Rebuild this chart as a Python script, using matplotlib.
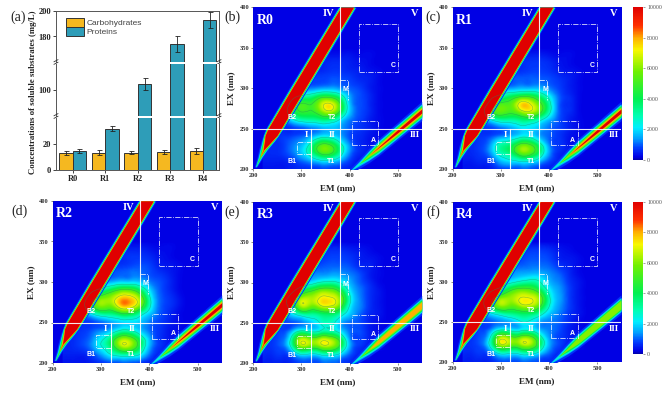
import numpy as np
import matplotlib
matplotlib.use('Agg')
import matplotlib.pyplot as plt
import matplotlib.tri as mtri
from matplotlib.colors import LinearSegmentedColormap, Normalize

plt.rcParams['font.family'] = ['Liberation Serif', 'DejaVu Serif']

W, H = 672, 394

# Bar panel data
runs = ['R0', 'R1', 'R2', 'R3', 'R4']
carbs = [12.8, 13.4, 13.4, 14.0, 14.6]
carbs_err = [1.5, 2.0, 1.2, 1.5, 2.0]
proteins = [14.6, 31.8, 104.5, 174, 193]
proteins_err = [1.5, 2.0, 4.5, 6, 6]

# EEM grids, intensity in hundreds, one row per EX value
em_cols = [220, 240, 260, 280, 300, 320, 340, 360, 380, 400, 420, 440, 460, 480, 500]
ex_rows = [200, 210, 220, 230, 240, 250, 260, 270, 280, 290, 300, 310, 320, 330, 340, 350]

r0_grid = [
    [4, 4, 4, 5, 6, 7, 8, 8, 7, 5, 3, 2, 2, 2, 2],
    [5, 5, 5, 7, 11, 16, 22, 22, 16, 8, 4, 3, 2, 2, 2],
    [6, 6, 7, 11, 18, 32, 50, 50, 32, 13, 6, 4, 3, 2, 2],
    [6, 6, 7, 11, 16, 30, 50, 48, 30, 13, 6, 4, 3, 2, 2],
    [6, 6, 7, 8, 10, 15, 22, 22, 16, 9, 6, 4, 3, 2, 2],
    [6, 6, 6, 7, 9, 12, 15, 17, 15, 10, 7, 5, 3, 2, 2],
    [6, 8, 11, 20, 28, 30, 33, 32, 22, 12, 8, 5, 3, 2, 2],
    [6, 10, 16, 34, 47, 46, 56, 64, 44, 18, 9, 6, 3, 2, 2],
    [6, 10, 14, 32, 50, 48, 64, 72, 50, 18, 9, 6, 3, 2, 2],
    [6, 7, 9, 18, 28, 32, 42, 43, 32, 15, 9, 6, 3, 2, 2],
    [5, 5, 6, 8, 10, 12, 14, 15, 13, 10, 8, 5, 3, 2, 2],
    [4, 4, 5, 5, 7, 8, 8, 9, 9, 8, 6, 5, 3, 2, 2],
    [3, 3, 3, 4, 5, 6, 6, 7, 7, 6, 5, 4, 3, 2, 2],
    [2, 2, 3, 3, 4, 5, 5, 6, 6, 5, 4, 3, 2, 2, 2],
    [2, 2, 2, 3, 3, 4, 4, 4, 4, 4, 3, 3, 2, 2, 2],
    [2, 2, 2, 2, 2, 2, 2, 2, 2, 2, 2, 2, 2, 2, 2],
]
r1_grid = [
    [4, 4, 4, 5, 8, 9, 10, 10, 7, 5, 3, 2, 2, 2, 2],
    [5, 5, 6, 9, 18, 22, 26, 25, 18, 9, 5, 3, 2, 2, 2],
    [6, 6, 8, 16, 30, 38, 56, 54, 36, 14, 6, 4, 3, 2, 2],
    [6, 6, 8, 16, 30, 36, 52, 50, 32, 12, 7, 4, 3, 2, 2],
    [6, 6, 7, 9, 13, 17, 23, 23, 15, 10, 7, 4, 3, 2, 2],
    [6, 6, 7, 8, 11, 15, 20, 20, 16, 11, 8, 5, 3, 2, 2],
    [6, 8, 12, 22, 30, 30, 34, 34, 26, 16, 9, 5, 3, 2, 2],
    [6, 10, 18, 44, 54, 50, 60, 66, 52, 28, 10, 6, 3, 2, 2],
    [6, 10, 15, 36, 52, 54, 74, 72, 54, 30, 10, 6, 3, 2, 2],
    [6, 7, 10, 20, 30, 38, 46, 46, 36, 22, 10, 6, 3, 2, 2],
    [5, 5, 6, 9, 12, 14, 16, 16, 16, 12, 8, 5, 3, 2, 2],
    [4, 4, 5, 6, 7, 9, 10, 10, 10, 9, 7, 5, 3, 2, 2],
    [3, 3, 3, 4, 6, 7, 7, 8, 8, 7, 5, 4, 3, 2, 2],
    [2, 2, 3, 4, 5, 6, 6, 7, 7, 6, 4, 3, 2, 2, 2],
    [2, 2, 2, 3, 4, 5, 5, 5, 5, 4, 3, 3, 2, 2, 2],
    [2, 2, 2, 2, 2, 2, 2, 2, 2, 2, 2, 2, 2, 2, 2],
]
r2_grid = [
    [4, 4, 4, 5, 7, 9, 10, 10, 8, 5, 3, 2, 2, 2, 2],
    [5, 5, 5, 8, 15, 24, 30, 30, 24, 11, 5, 3, 2, 2, 2],
    [6, 6, 8, 13, 24, 38, 62, 62, 40, 16, 7, 4, 3, 2, 2],
    [6, 6, 8, 12, 22, 36, 58, 56, 36, 16, 7, 4, 3, 2, 2],
    [6, 6, 7, 9, 12, 17, 26, 26, 18, 11, 7, 4, 3, 2, 2],
    [6, 6, 7, 8, 11, 15, 19, 20, 18, 12, 8, 5, 3, 2, 2],
    [6, 8, 12, 22, 32, 34, 42, 42, 30, 18, 10, 6, 3, 2, 2],
    [6, 10, 18, 44, 60, 58, 76, 76, 58, 28, 11, 7, 4, 2, 2],
    [6, 10, 15, 38, 56, 62, 76, 76, 60, 28, 11, 7, 4, 2, 2],
    [6, 7, 10, 20, 30, 40, 50, 50, 38, 20, 10, 6, 3, 2, 2],
    [5, 5, 6, 9, 12, 15, 18, 18, 17, 12, 9, 6, 3, 2, 2],
    [4, 4, 5, 6, 7, 9, 10, 11, 11, 9, 7, 5, 3, 2, 2],
    [3, 3, 3, 4, 6, 7, 7, 8, 9, 8, 5, 4, 3, 2, 2],
    [2, 2, 3, 4, 5, 6, 6, 7, 7, 6, 4, 3, 2, 2, 2],
    [2, 2, 2, 3, 4, 5, 5, 5, 5, 4, 3, 3, 2, 2, 2],
    [2, 2, 2, 2, 2, 2, 2, 2, 2, 2, 2, 2, 2, 2, 2],
]
r3_grid = [
    [5, 5, 5, 6, 9, 9, 10, 11, 9, 6, 3, 2, 2, 2, 2],
    [6, 6, 7, 11, 22, 20, 24, 26, 20, 10, 5, 3, 2, 2, 2],
    [7, 7, 10, 28, 60, 54, 60, 62, 44, 16, 7, 4, 3, 2, 2],
    [7, 7, 10, 30, 64, 56, 62, 60, 42, 14, 8, 5, 3, 2, 2],
    [7, 7, 8, 14, 26, 22, 26, 28, 20, 11, 9, 5, 3, 2, 2],
    [7, 7, 8, 9, 12, 18, 26, 28, 18, 11, 9, 5, 3, 2, 2],
    [7, 9, 12, 20, 30, 32, 36, 38, 30, 18, 11, 6, 4, 2, 2],
    [7, 11, 20, 34, 64, 58, 66, 68, 54, 24, 13, 7, 4, 2, 2],
    [7, 11, 18, 36, 62, 64, 72, 72, 60, 28, 13, 7, 4, 2, 2],
    [7, 8, 11, 20, 36, 46, 56, 56, 44, 22, 12, 7, 4, 2, 2],
    [6, 6, 7, 11, 15, 20, 26, 28, 24, 16, 10, 6, 3, 2, 2],
    [5, 5, 6, 7, 9, 12, 13, 14, 14, 12, 9, 5, 3, 2, 2],
    [3, 3, 4, 5, 7, 8, 9, 10, 10, 9, 6, 5, 3, 2, 2],
    [2, 2, 3, 4, 5, 7, 7, 8, 8, 7, 5, 4, 3, 2, 2],
    [2, 2, 2, 3, 4, 5, 5, 6, 6, 5, 4, 3, 2, 2, 2],
    [2, 2, 2, 2, 2, 2, 2, 2, 2, 2, 2, 2, 2, 2, 2],
]
r4_grid = [
    [5, 5, 5, 6, 9, 9, 10, 10, 8, 6, 3, 2, 2, 2, 2],
    [6, 6, 7, 12, 24, 22, 25, 26, 18, 10, 5, 3, 2, 2, 2],
    [7, 7, 10, 30, 62, 54, 58, 60, 38, 15, 8, 4, 3, 2, 2],
    [7, 7, 10, 30, 66, 56, 58, 58, 34, 14, 8, 5, 3, 2, 2],
    [7, 7, 8, 14, 26, 22, 22, 24, 16, 12, 9, 5, 3, 2, 2],
    [7, 7, 8, 10, 13, 16, 23, 23, 15, 12, 10, 6, 3, 2, 2],
    [7, 9, 13, 22, 30, 34, 38, 38, 30, 18, 12, 7, 4, 2, 2],
    [7, 12, 20, 44, 62, 56, 64, 66, 52, 26, 14, 8, 4, 2, 2],
    [7, 11, 18, 40, 58, 62, 70, 70, 58, 28, 15, 8, 4, 2, 2],
    [7, 9, 12, 22, 32, 46, 54, 52, 40, 22, 14, 8, 4, 2, 2],
    [6, 7, 9, 12, 16, 22, 27, 30, 26, 16, 12, 7, 4, 2, 2],
    [5, 6, 7, 9, 11, 13, 15, 16, 16, 13, 10, 6, 3, 2, 2],
    [3, 4, 5, 7, 9, 10, 10, 11, 11, 10, 7, 5, 3, 2, 2],
    [2, 3, 3, 5, 7, 8, 8, 9, 9, 8, 5, 4, 3, 2, 2],
    [2, 2, 2, 3, 5, 6, 6, 7, 7, 6, 4, 3, 2, 2, 2],
    [2, 2, 2, 2, 2, 2, 2, 2, 2, 2, 2, 2, 2, 2, 2],
]

# Scatter bands: centre line and half width per intensity
band1_ex = [203, 215, 224, 235, 242, 250, 300, 400]
band1_em = [205, 214, 221, 231, 237, 244, 294, 395]
band1_levels = [700, 1500, 2500, 4000, 6000, 8000, 9000, 10000]
band1_half = [
    [3, 6, 10, 15, 17, 19, 20, 19],
    [1, 4, 7.5, 13, 15.5, 17, 17.5, 17],
    [0, 3, 6.5, 12, 15, 16.5, 17, 16.5],
    [0, 1.5, 5.5, 11, 14.5, 16, 16, 15.5],
    [0, 0.5, 3.5, 10, 13.5, 15, 15, 14.5],
    [0, 0, 2, 9, 13, 14, 14, 13.5],
    [0, 0, 1, 8, 12.5, 13.5, 13.5, 13],
    [0, 0, 0, 7, 12, 13, 13, 12.5],
]
band2_em = [400, 420, 440, 460, 500, 550]
band2_ex = [197.5, 207, 217, 227, 247, 272]
band2_levels = [700, 1500, 2500, 4000, 6000, 8000, 10000]
band2_half = [
    [3, 6, 9, 10.5, 11, 12],
    [0, 3, 6, 8, 8.5, 9],
    [0, 1.5, 5, 7, 7.5, 8],
    [0, 0, 3.5, 5.5, 6.5, 7],
    [0, 0, 1.5, 4, 5, 5.5],
    [0, 0, 0, 2.5, 3.5, 4],
    [0, 0, 0, 0.5, 2, 2.5],
]

panels = [
    ('(b)', 'R0', r0_grid, 10000, (253.3, 421.7, 7.3, 169.3)),
    ('(c)', 'R1', r1_grid, 10000, (452.7, 621.0, 7.3, 169.3)),
    ('(d)', 'R2', r2_grid, 10000, (52.7, 221.7, 201.0, 363.0)),
    ('(e)', 'R3', r3_grid, 8000, (253.3, 421.7, 201.7, 363.3)),
    ('(f)', 'R4', r4_grid, 6000, (452.7, 621.0, 201.7, 362.3)),
]
label_xy = {'(b)': (232, 17), '(c)': (433, 17), '(d)': (19, 211), '(e)': (232, 212), '(f)': (433, 212)}

# Region labels and boxes in EM / EX
region_labels = [('IV', 356, 392, 7.5), ('V', 535, 392, 7.5), ('I', 310, 242, 6.5), ('II', 364, 242, 6.5),
                 ('III', 535, 242, 6.5), ('A', 449, 236, 5), ('C', 490, 328, 5), ('M', 392, 298, 5),
                 ('B2', 280, 264, 5), ('T2', 363, 264, 5), ('B1', 280, 210, 5), ('T1', 362, 210, 5)]
boxes = [
    ([420, 500, 500, 420, 420], [320, 320, 380, 380, 320]),
    ([405, 460, 460, 405, 405], [230, 230, 260, 260, 230]),
    ([320, 290, 290, 320], [219, 219, 234, 234]),
    ([380, 397, 397], [310, 310, 285]),
]

eem_cmap = LinearSegmentedColormap.from_list('eem', [
    (0.0, '#0000b0'), (0.02, '#0000e6'), (0.08, '#0040ff'), (0.14, '#00a0ff'), (0.21, '#00eeff'),
    (0.29, '#00ffb0'), (0.40, '#00f050'), (0.58, '#70f000'), (0.72, '#f8f800'), (0.80, '#ffb000'),
    (0.88, '#ff3000'), (1.0, '#e00000')])
norm = Normalize(0, 10000)


def px_axes(fig, left, right, top, bottom):
    return fig.add_axes([left / W, 1 - bottom / H, (right - left) / W, (bottom - top) / H])


def style_ticks(ax):
    ax.tick_params(labelsize=4.6, length=1.5, width=0.4, pad=1.5, colors='#333333')
    for lab in ax.get_xticklabels() + ax.get_yticklabels():
        lab.set_fontweight('bold')


def draw_eem(ax, name, grid, band2_top):
    # smooth the coarse grid with matplotlib's cubic interpolator, outside it stays background
    em, ex = np.meshgrid(em_cols, ex_rows)
    z = np.array(grid, dtype=float) * 100
    tri = mtri.Triangulation(em.ravel(), ex.ravel())
    interp = mtri.CubicTriInterpolator(tri, z.ravel())
    xi, yi = np.meshgrid(np.linspace(200, 550, 351), np.linspace(200, 400, 201))
    zi = np.ma.filled(interp(xi, yi), 200)
    zi = np.clip(zi, 200, 10000)
    ax.imshow(zi, origin='lower', extent=(200, 550, 200, 400), aspect='auto', cmap=eem_cmap, norm=norm,
              interpolation='bilinear')
    ax.contour(xi, yi, zi, levels=[2500, 4800, 7000], colors='#1f8f5f', linewidths=0.35, alpha=0.6)

    # nothing fluoresces on the short wavelength side of the first band
    ax.fill_betweenx(band1_ex + [400], 200, band1_em + [395], color=eem_cmap(norm(200)), lw=0)
    for level, half in zip(band1_levels, band1_half):
        half = np.array(half)
        ax.fill_betweenx(band1_ex, np.array(band1_em) - half, np.array(band1_em) + half,
                         color=eem_cmap(norm(level)), lw=0)
    for level, half in zip(band2_levels, band2_half):
        if level > band2_top:
            continue
        half = np.array(half)
        ax.fill_between(band2_em, np.array(band2_ex) - half, np.array(band2_ex) + half,
                        color=eem_cmap(norm(level)), lw=0)

    ax.axhline(250, color='white', lw=0.8, alpha=0.9)
    ax.axvline(380, color='white', lw=0.8, alpha=0.9)
    ax.plot([320, 320], [200, 250], color='white', lw=0.8, alpha=0.9)
    for xs, ys in boxes:
        ax.plot(xs, ys, color='white', lw=0.6, ls='-.', alpha=0.85)

    for txt, x, y, size in region_labels:
        sans = size < 6
        ax.text(x, y, txt, color='white', fontsize=size, fontweight='bold', ha='center', va='center',
                family='Liberation Sans' if sans else 'Liberation Serif')
    ax.text(225, 384, name, color='white', fontsize=10, fontweight='bold', ha='center', va='center')

    ax.set_xlim(200, 550)
    ax.set_ylim(200, 400)
    ax.set_xticks([200, 300, 400, 500])
    ax.set_yticks([200, 250, 300, 350, 400])
    ax.set_xlabel('EM (nm)', fontsize=6.6, fontweight='bold', labelpad=4, color='#222222')
    ax.set_ylabel('EX (nm)', fontsize=6.6, fontweight='bold', labelpad=3, color='#222222')
    style_ticks(ax)
    for s in ax.spines.values():
        s.set_visible(False)


def draw_bars(fig):
    segments = [((160, 200), 11, 62), ((80, 120), 64, 116), ((0, 40), 118, 170)]
    x = np.arange(len(runs))
    w = 0.41
    axes = []
    for (lo, hi), top, bottom in segments:
        ax = px_axes(fig, 56, 219, top, bottom)
        ax.bar(x - w / 2, carbs, w, color='#f5b820', edgecolor='#333333', lw=0.7,
               yerr=carbs_err, error_kw=dict(ecolor='#222222', elinewidth=0.6, capsize=1.8, capthick=0.6),
               label='Carbohydrates')
        ax.bar(x + w / 2, proteins, w, color='#2e9db8', edgecolor='#333333', lw=0.7,
               yerr=proteins_err, error_kw=dict(ecolor='#222222', elinewidth=0.6, capsize=1.8, capthick=0.6),
               label='Proteins')
        ax.set_xlim(-0.51, 4.49)
        ax.set_ylim(lo, hi)
        for s in ax.spines.values():
            s.set_color('#555555')
            s.set_linewidth(0.7)
        axes.append(ax)

    upper, mid, lower = axes
    upper.spines['bottom'].set_visible(False)
    mid.spines['top'].set_visible(False)
    mid.spines['bottom'].set_visible(False)
    lower.spines['top'].set_visible(False)
    upper.set_xticks([])
    mid.set_xticks([])
    upper.set_yticks([180, 200])
    mid.set_yticks([100])
    lower.set_yticks([0, 20])
    lower.set_xticks(x, runs)
    for ax in axes:
        ax.tick_params(axis='y', labelsize=6, length=2, width=0.6, pad=1.5, colors='#222222')
        ax.tick_params(axis='x', labelsize=6, length=2, width=0.6, pad=1.5, colors='#222222')
        for lab in ax.get_xticklabels() + ax.get_yticklabels():
            lab.set_fontweight('bold')

    # break marks on both sides of the two gaps
    for ax in (upper, mid):
        for side in (0, 1):
            for off in (-0.025, 0.025):
                ax.plot([side - 0.012, side + 0.012], [off - 0.02, off + 0.02], transform=ax.transAxes,
                        color='#333333', lw=0.6, clip_on=False, zorder=10)

    upper.legend(loc='upper left', bbox_to_anchor=(0.06, 0.86), frameon=False, handlelength=2.2, handleheight=1.2,
                 labelspacing=0, borderpad=0, borderaxespad=0, handletextpad=0.3,
                 prop={'family': 'Liberation Sans', 'size': 6.0}, labelcolor='#444444')
    fig.text(33 / W, 1 - 92 / H, 'Concentrations of soluble substrates (mg/L)', rotation=90, fontsize=6.3,
             fontweight='bold', ha='center', va='center', color='#222222')


fig = plt.figure(figsize=(W / 100, H / 100), dpi=100)

draw_bars(fig)
fig.text(18 / W, 1 - 17 / H, '(a)', fontsize=10, ha='center', va='center', color='#222222')

for tag, name, grid, band2_top, (l, r, t, b) in panels:
    ax = px_axes(fig, l, r, t, b)
    draw_eem(ax, name, grid, band2_top)
    lx, ly = label_xy[tag]
    fig.text(lx / W, 1 - ly / H, tag, fontsize=10, ha='center', va='center', color='#222222')

for t, b in [(7.3, 160), (201.7, 354)]:
    cax = px_axes(fig, 632.7, 643, t, b)
    sm = plt.cm.ScalarMappable(norm=norm, cmap=eem_cmap)
    cb = fig.colorbar(sm, cax=cax, ticks=[0, 2000, 4000, 6000, 8000, 10000])
    cb.outline.set_visible(False)
    cb.ax.tick_params(labelsize=4.2, length=1.5, width=0.4, pad=1.5, colors='#555555')

fig.savefig('out.png', dpi=100)
